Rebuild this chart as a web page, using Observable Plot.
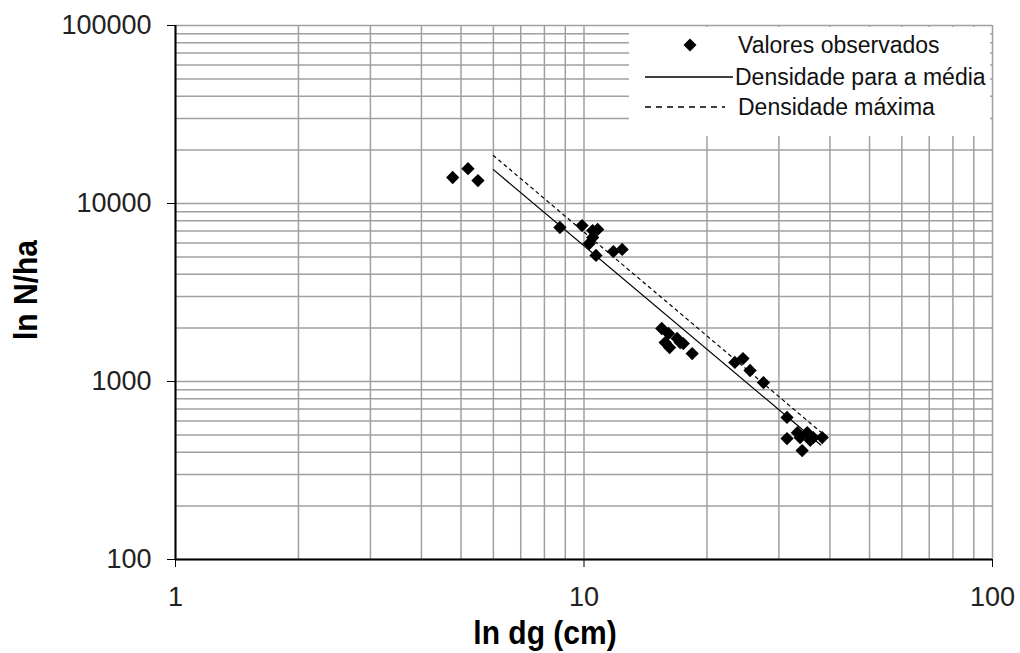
<!DOCTYPE html>
<html><head><meta charset="utf-8">
<script src="https://cdn.jsdelivr.net/npm/d3@7"></script>
<script src="https://cdn.jsdelivr.net/npm/@observablehq/plot@0.6"></script>
<style>
body{margin:0;background:#fff;}
#wrap{position:relative;width:1020px;height:653px;font-family:Arial,"Liberation Sans",sans-serif;overflow:hidden;}
#legend{position:absolute;left:629px;top:27px;width:361px;height:109px;background:#fff;}
.atitle{position:absolute;font-weight:bold;font-size:30px;color:#000;white-space:nowrap;line-height:1;}
#xtitle{left:545px;top:633px;transform:translate(-50%,-50%) scaleY(1.08);}
#ytitle{left:26px;top:290px;transform:translate(-50%,-50%) rotate(-90deg) scaleY(1.08);}
</style></head><body><div id="wrap"></div>
<script>
// observed values
const dg  = [4.77,5.2,5.5, 8.73,9.89,10.5,10.8,10.5,10.3,10.7,11.8,12.4, 15.5,16.1,16.9,16.2,17.5,18.4,17.2,15.8, 23.4,24.5,25.5,27.5, 31.4,31.4,33.3,34.2,35.2,36.4,38.3,35.8,33.8];
const nha = [14000,15700,13460, 7330,7520,7050,7150,6440,5960,5110,5370,5520, 1985,1862,1745,1552,1633,1435,1655,1655, 1280,1346,1153,986, 628,478,516,409,516,484,484,467,484];
// fitted lines
const lineDg = [6, 38];
const mediaN = [15500, 440];
const maxN   = [18600, 520];
// ticks
const xTicks = [1, 10, 100];
const yTicks = [100, 1000, 10000, 100000];
const xTitle = "ln dg (cm)";
const yTitle = "ln N/ha";
const legendNames = ["Valores observados", "Densidade para a média", "Densidade máxima"];

const xGrid = [1, 10].flatMap(d => d3.range(1, 10).map(k => k * d)).concat([100]);
const yGrid = [100, 1000, 10000].flatMap(d => d3.range(1, 10).map(k => k * d)).concat([100000]);

const obs = dg.map((d, i) => ({dg: d, n: nha[i]}));
const media = lineDg.map((d, i) => ({dg: d, n: mediaN[i]}));
const maxima = lineDg.map((d, i) => ({dg: d, n: maxN[i]}));

const plot = Plot.plot({
  width: 1020, height: 653,
  marginLeft: 175, marginRight: 28, marginTop: 25, marginBottom: 94,
  style: {fontFamily: "Arial, 'Liberation Sans', sans-serif", fontSize: "27px", color: "#222", background: "#fff", overflow: "visible"},
  x: {type: "log", domain: [1, 100]},
  y: {type: "log", domain: [100, 100000]},
  marks: [
    Plot.ruleX(xGrid, {stroke: "#a0a0a0", strokeWidth: 1.5}),
    Plot.ruleY(yGrid, {stroke: "#a0a0a0", strokeWidth: 1.5}),
    Plot.axisX(xTicks, {tickFormat: d => String(d), tickSize: 8, tickPadding: 19, fontSize: 27, label: null, stroke: "#000"}),
    Plot.axisY(yTicks, {tickFormat: d => String(d), tickSize: 8, tickPadding: 16, fontSize: 27, label: null, stroke: "#000"}),
    Plot.ruleX([1], {stroke: "#000", strokeWidth: 2}),
    Plot.ruleY([100], {stroke: "#000", strokeWidth: 2}),
    Plot.line(maxima, {x: "dg", y: "n", stroke: "#000", strokeWidth: 1.2, strokeDasharray: "3,4"}),
    Plot.line(media, {x: "dg", y: "n", stroke: "#000", strokeWidth: 1.2}),
    Plot.dot(obs, {x: "dg", y: "n", symbol: "square", r: 5.3, rotate: 45, fill: "#000", stroke: "none"})
  ]
});
const wrap = document.getElementById("wrap");
wrap.appendChild(plot);

// axis titles
d3.select(wrap).append("div").attr("class", "atitle").attr("id", "xtitle").text(xTitle);
d3.select(wrap).append("div").attr("class", "atitle").attr("id", "ytitle").text(yTitle);

// legend
const leg = d3.select(wrap).append("div").attr("id", "legend")
  .append("svg").attr("width", 361).attr("height", 109)
  .style("font-family", "Arial, 'Liberation Sans', sans-serif").style("font-size", "23px");
const rows = [18, 50, 80];
leg.append("path").attr("d", d3.symbol(d3.symbolSquare, 85)()).attr("transform", `translate(61,${rows[0]}) rotate(45)`).attr("fill", "#000");
leg.append("line").attr("x1", 16).attr("x2", 104).attr("y1", rows[1]).attr("y2", rows[1]).attr("stroke", "#000").attr("stroke-width", 1.5);
leg.append("line").attr("x1", 16).attr("x2", 96).attr("y1", rows[2]).attr("y2", rows[2]).attr("stroke", "#000").attr("stroke-width", 1.5).attr("stroke-dasharray", "6,5");
const tx = [109, 106, 109];
legendNames.forEach((name, i) => {
  leg.append("text").attr("x", tx[i]).attr("y", rows[i]).attr("dy", "0.36em").attr("fill", "#111").text(name);
});
</script>
</body></html>
